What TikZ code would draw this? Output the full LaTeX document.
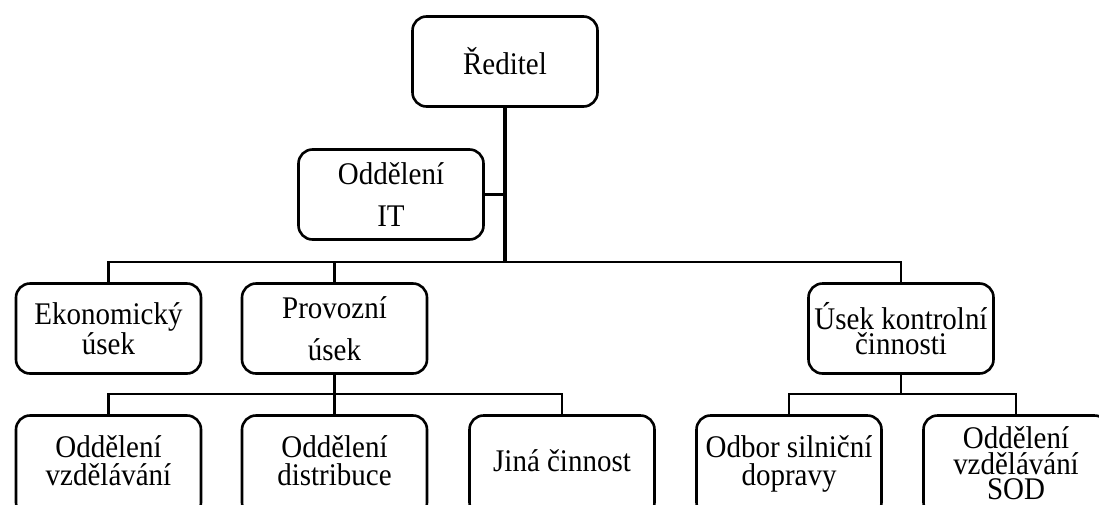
\documentclass[tikz,border=0pt]{standalone}
\usepackage{fontspec}
\setmainfont{Liberation Serif}
\newfontfamily\boxfont[FakeStretch=0.92]{Liberation Serif}
\usetikzlibrary{positioning,calc}
\tikzset{
  unit/.style={draw, rounded corners=14pt, line width=2.6pt, minimum width=185pt,
               minimum height=90pt, inner sep=0pt, align=center,
               font=\boxfont\fontsize{31.5}{28}\selectfont},
  lowunit/.style={unit, minimum height=101pt, text depth=11pt},
  tight/.style={font=\boxfont\fontsize{31.5}{25.5}\selectfont},
  conn/.style={line width=2.6pt, line join=miter},
  trunk/.style={conn, line width=3.8pt},
}
\begin{document}
\begin{tikzpicture}[x=1pt, y=-1pt]
\useasboundingbox (0,0) rectangle (1099,504);

% ============================ top =====================================
\node[unit] (dir) at (505,61.5) {Ředitel};
\node[unit] (it)  at (391,194.5) {Oddělení\\[14pt]IT};

% ============================ sections ================================
\node[unit] (eko)   at (108.5,328.5) {Ekonomický\\úsek};
\node[unit] (prov)  at (334.5,328.5) {Provozní\\[14pt]úsek};
\node[unit, tight] (kontr) at (901,328.5) {Úsek kontrolní\\činnosti};

% ============================ departments =============================
% the lowest row runs past the lower edge of the page
\node[lowunit] (vzd)   at (108.5,466) {Oddělení\\vzdělávání};
\node[lowunit] (dist)  at (334.5,466) {Oddělení\\distribuce};
\node[lowunit] (jina)  at (562,466)   {Jiná činnost};
\node[lowunit] (odbor) at (789,466)   {Odbor silniční\\dopravy};
\node[lowunit, tight, text depth=5pt] (sod) at (1016,466) {Oddělení\\vzdělávání\\SOD};

% bus lines
\coordinate (bus1) at (505,262);
\coordinate (bus2) at (0,394);

\draw[trunk] (dir.south) -- (bus1);
\draw[conn] (it.east) -- (it.east -| dir.south);
\draw[conn] (eko.north) |- (kontr.north |- bus1) -- (kontr.north);
\draw[conn] (prov.north) -- (prov.north |- bus1);

\draw[conn] (vzd.north) |- (jina.north |- bus2) -- (jina.north);
\draw[conn] (prov.south) -- (dist.north);
\draw[conn] (odbor.north) |- (sod.north |- bus2) -- (sod.north);
\draw[conn] (kontr.south) -- (kontr.south |- bus2);

\end{tikzpicture}
\end{document}
